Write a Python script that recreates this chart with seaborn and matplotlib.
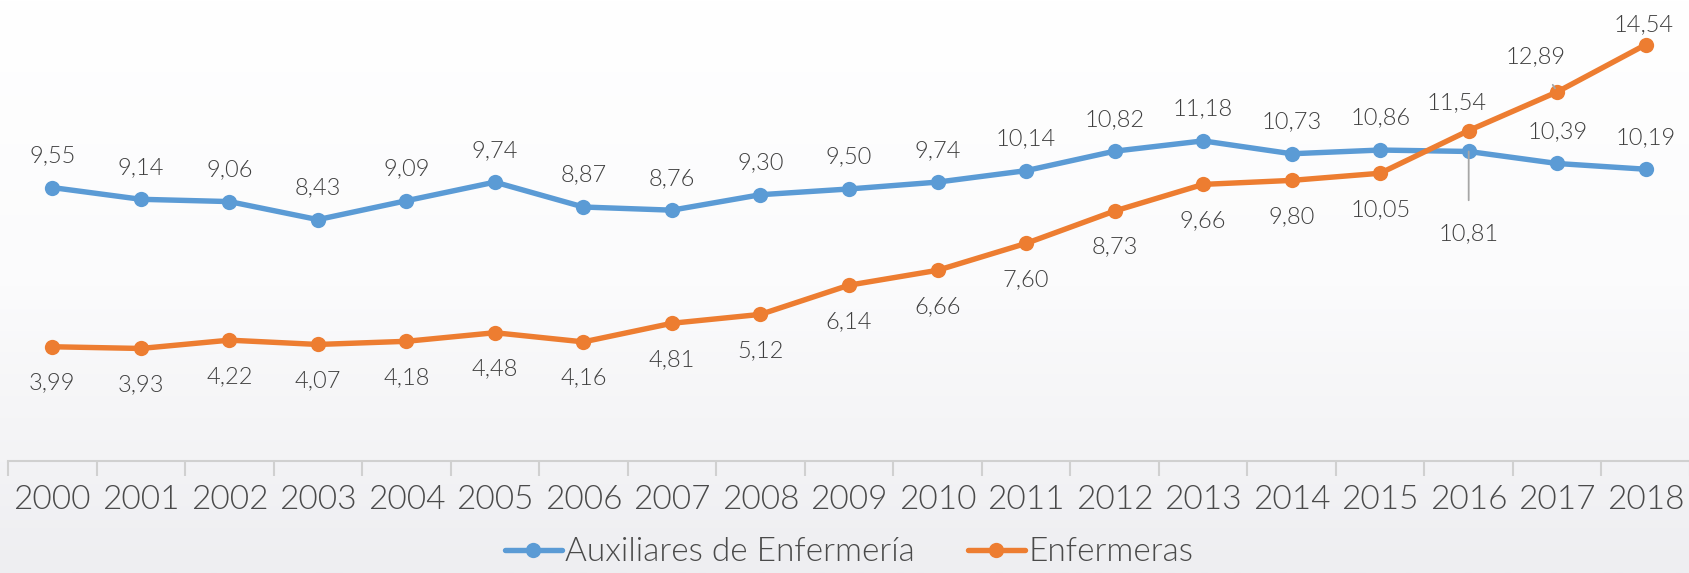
import numpy as np
import pandas as pd
import matplotlib
matplotlib.use("Agg")
import matplotlib.pyplot as plt
import seaborn as sns

# Data
years = list(range(2000, 2019))
auxiliares = [9.55, 9.14, 9.06, 8.43, 9.09, 9.74, 8.87, 8.76, 9.30, 9.50,
              9.74, 10.14, 10.82, 11.18, 10.73, 10.86, 10.81, 10.39, 10.19]
enfermeras = [3.99, 3.93, 4.22, 4.07, 4.18, 4.48, 4.16, 4.81, 5.12, 6.14,
              6.66, 7.60, 8.73, 9.66, 9.80, 10.05, 11.54, 12.89, 14.54]
series_names = ["Auxiliares de Enfermería", "Enfermeras"]
colors = ["#5B9BD5", "#ED7D31"]

df = pd.DataFrame({
    "Año": years * 2,
    "Valor": auxiliares + enfermeras,
    "Serie": [series_names[0]] * len(years) + [series_names[1]] * len(years),
})

sns.set_style("white")
plt.rcParams["font.family"] = ["Lato", "DejaVu Sans"]
plt.rcParams["font.weight"] = 300

fig = plt.figure(figsize=(16.9, 5.73), dpi=100)

# Light background gradient
bg = fig.add_axes([0, 0, 1, 1], zorder=-10)
grad = np.linspace(0, 1, 256).reshape(-1, 1)
bg.imshow(grad, aspect="auto", cmap=matplotlib.colors.LinearSegmentedColormap.from_list(
    "bg", ["#FFFFFF", "#FBFBFC", "#EEEEF1"]), extent=[0, 1, 0, 1], origin="upper")
bg.axis("off")

ax = fig.add_axes([8 / 1690, 112 / 573, 1 - 8 / 1690, 461 / 573])
ax.patch.set_alpha(0)

sns.lineplot(data=df, x="Año", y="Valor", hue="Serie", palette=colors,
             marker="o", markersize=11, linewidth=3.9, markeredgewidth=0,
             ax=ax, legend=True)

ax.set_xlim(1999.5, 2018.5)
ax.set_ylim(0, 16.1)
ax.set_xlabel("")
ax.set_ylabel("")
ax.set_yticks([])
ax.set_xticks(years)
ax.set_xticklabels([str(y) for y in years], fontweight=300)
ax.set_xticks(np.arange(1999.5, 2019, 1), minor=True)
ax.tick_params(axis="x", which="major", bottom=False, length=0, pad=17,
               labelsize=24, labelcolor="#4A4A4A")
ax.tick_params(axis="x", which="minor", bottom=True, length=11, width=1.5,
               color="#D0D0D0", direction="out")
for s in ["top", "left", "right"]:
    ax.spines[s].set_visible(False)
ax.spines["bottom"].set_color("#D0D0D0")
ax.spines["bottom"].set_linewidth(1.5)

label_color = "#404040"
lbl = dict(ha="center", va="center", fontsize=17, color=label_color,
           fontweight=300, textcoords="offset pixels")

def fmt(v):
    return f"{v:.2f}".replace(".", ",")

# Labels for Auxiliares (above, except 2016 below with leader line)
for yr, v in zip(years, auxiliares):
    if yr == 2016:
        ax.annotate(fmt(v), (yr, v), xytext=(0, -82),
                    arrowprops=dict(arrowstyle="-", color="#A6A6A6", lw=1.3,
                                    shrinkA=14, shrinkB=0), **lbl)
    else:
        ax.annotate(fmt(v), (yr, v), xytext=(0, 32), **lbl)

# Labels for Enfermeras (below, except last three above)
for yr, v in zip(years, enfermeras):
    if yr == 2016:
        ax.annotate(fmt(v), (yr, v), xytext=(-12, 28), **lbl)
    elif yr == 2017:
        ax.annotate(fmt(v), (yr, v), xytext=(-22, 35),
                    arrowprops=dict(arrowstyle="-", color="#A6A6A6", lw=1.3,
                                    shrinkA=12, shrinkB=3), **lbl)
    elif yr == 2018:
        ax.annotate(fmt(v), (yr, v), xytext=(-2, 20), **lbl)
    else:
        ax.annotate(fmt(v), (yr, v), xytext=(0, -36), **lbl)

leg = ax.legend(loc="center", bbox_to_anchor=(0.5, -0.198), ncol=2, frameon=False,
                prop={"size": 24, "weight": 300}, handlelength=1.7,
                handletextpad=0.1, columnspacing=1.6, labelcolor="#4A4A4A",
                borderpad=0.1)
for line in leg.get_lines():
    line.set_linewidth(3.9)
    line.set_markersize(11)

fig.savefig("out.png", dpi=100)
